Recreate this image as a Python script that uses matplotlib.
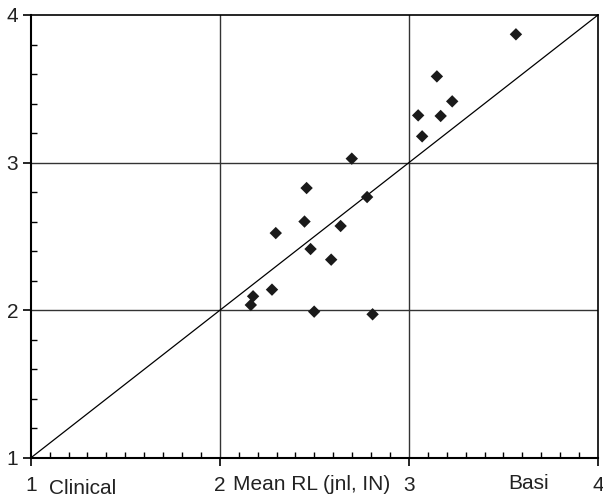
import matplotlib
matplotlib.use("Agg")
import matplotlib.pyplot as plt
import matplotlib.transforms as mtransforms
from matplotlib.ticker import MultipleLocator

plt.rcParams['font.family'] = ['Liberation Sans', 'DejaVu Sans']

# mean RL values
clinical = [3.566, 3.148, 3.049, 3.168, 3.229, 3.070, 2.698, 2.459, 2.779, 2.296,
            2.448, 2.639, 2.480, 2.589, 2.276, 2.176, 2.164, 2.499, 2.808]
basi = [3.869, 3.584, 3.320, 3.316, 3.415, 3.178, 3.027, 2.828, 2.767, 2.523,
        2.601, 2.571, 2.415, 2.343, 2.140, 2.095, 2.036, 1.991, 1.973]

ticks = [1, 2, 3, 4]
tick_labels = ['1', '2', '3', '4']

fig = plt.figure(figsize=(6.03, 4.99), dpi=100)
ax = fig.add_axes([0.0509, 0.0822, 0.9408, 0.8878])

ax.set_xlim(1, 4)
ax.set_ylim(1, 4)

# grid lines at 2 and 3
for v in [2, 3]:
    ax.axvline(v, color='#333333', lw=1.0, zorder=1)
    ax.axhline(v, color='#333333', lw=1.0, zorder=1)

# identity line
ax.plot([1, 4], [1, 4], color='black', lw=0.9, zorder=2)

ax.scatter(clinical, basi, marker='D', s=40, color='#1a1a1a', edgecolors='none', zorder=3)

ax.set_xticks(ticks)
ax.set_xticklabels(tick_labels)
ax.set_yticks(ticks)
ax.set_yticklabels(tick_labels)
ax.xaxis.set_minor_locator(MultipleLocator(0.1))
ax.yaxis.set_minor_locator(MultipleLocator(0.2))

fs = 15
ax.tick_params(axis='both', which='major', direction='out', length=6, width=1.2,
               labelsize=fs, color='black', labelcolor='#222222')
ax.tick_params(axis='x', which='major', pad=7)
ax.tick_params(axis='y', which='major', pad=3)
ax.tick_params(axis='both', which='minor', direction='in', length=4, width=1.0, color='black')
ax.tick_params(top=False, right=False, which='both')

for sp in ['left', 'bottom']:
    ax.spines[sp].set_linewidth(1.5)
for sp in ['top', 'right']:
    ax.spines[sp].set_linewidth(1.2)

trans = mtransforms.blended_transform_factory(ax.transData, fig.transFigure)
ax.text(1.097, 0.010, 'Clinical', transform=trans, fontsize=fs, ha='left', va='baseline', color='#222222')
ax.text(2.070, 0.018, 'Mean RL (jnl, IN)', transform=trans, fontsize=fs, ha='left', va='baseline', color='#222222')
ax.text(3.525, 0.020, 'Basi', transform=trans, fontsize=fs, ha='left', va='baseline', color='#222222')

fig.savefig('out.png', dpi=100)
